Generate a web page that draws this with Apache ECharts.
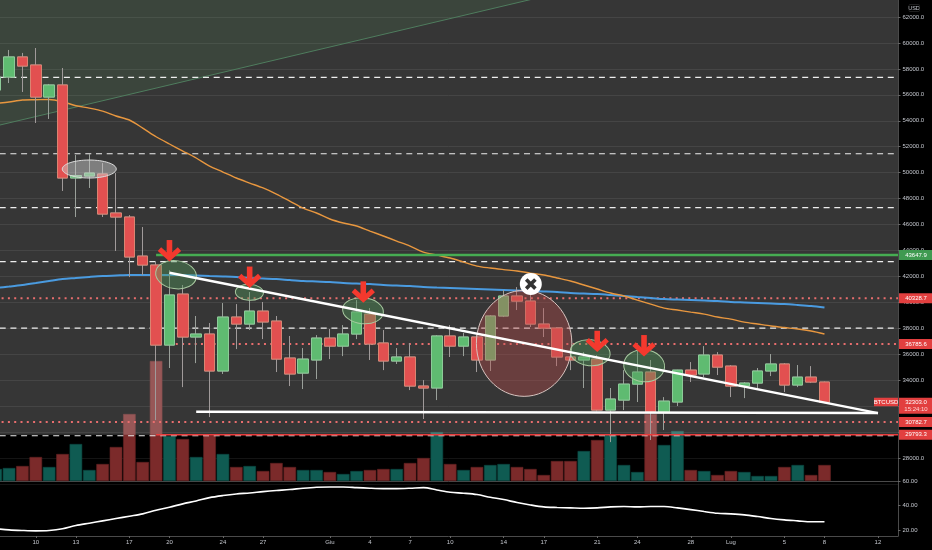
<!DOCTYPE html>
<html><head><meta charset="utf-8">
<style>html,body{margin:0;padding:0;background:#000}#c{width:932px;height:550px}</style>
<script src="https://cdn.jsdelivr.net/npm/echarts@6/dist/echarts.min.js"></script>
</head><body><div id="c"></div>
<script>
const tickLabels = ['','','','10','','','13','','','','17','','','20','','','','24','','','27','','','','','Giu','','','4','','','7','','','10','','','','14','','','17','','','','21','','','24','','','','28','','','Lug','','','','5','','','8','','','','12',''];
const opens = [56370,57370,58920,58300,55830,56760,49590,49740,49900,46890,46580,43570,42880,36710,40640,37330,37560,34710,38870,38330,39330,38560,35710,34550,35560,37250,36630,37560,39100,36870,35480,35790,33550,33400,37410,36630,37330,35560,38950,40490,40100,38330,38020,35790,35560,35630,31700,32470,33700,34630,31550,32320,34780,34480,35940,35090,33550,33780,34710,35250,33630,34240,33860];
const closes = [57370,58920,58220,55830,56760,49590,49770,49970,46810,46580,43500,42880,36710,40570,37330,37560,34710,38870,38330,39330,38490,35630,34480,35630,37250,36630,37560,39260,36790,35480,35790,33550,33400,37410,36630,37330,35560,38950,40490,40100,38330,38020,35790,35560,35790,31700,32550,33700,34630,31550,32390,34780,34400,35940,35010,33550,33780,34710,35250,33630,34240,33860,32303];
const lows = [55990,56910,56220,53830,54140,48590,46580,48820,46580,43960,41950,42110,30930,34940,33470,35320,31160,34480,36400,37870,37170,34630,33550,33320,34090,35630,35860,37170,35560,34780,35250,33240,31010,32470,35790,35860,34630,34710,38870,39410,38100,37330,35090,34780,33400,31600,29230,31700,32320,29390,30160,32010,33860,34240,34400,32700,32620,33400,34320,33090,33470,33780,32230];
const highs = [57760,59460,59230,59610,56840,58070,51360,51440,50740,49970,46730,45810,43110,42490,41340,38950,38410,39950,39870,40800,40030,38950,37410,36480,37480,37950,38250,40180,39560,37870,36480,36870,34010,37480,38250,37640,37480,39020,40950,41180,40570,39560,38100,36090,36170,35940,33400,34780,36330,35560,32700,34800,35400,36630,36170,35170,33860,34940,36020,35320,35170,35090,33900];
const volumes = [12,13,15,24,14,27,37,11,17,34,67,19,120,45,42,24,46,27,14,15,10,18,14,11,11,9,7,10,11,12,12,18,23,49,17,11,14,16,17,14,12,6,20,20,30,41,47,16,9,67,36,50,11,10,6,10,9,5,5,14,16,6,16];
const maOrange = [55330,55450,55600,55620,55640,55470,55160,54980,54750,54370,54060,53440,52770,52210,51670,51130,50510,50050,49590,49200,48820,48350,47810,47270,46890,46430,46120,45890,45500,45120,44730,44340,43880,43650,43420,43110,42800,42650,42530,42420,42260,42110,41880,41650,41340,41030,40720,40490,40180,39870,39560,39410,39250,39100,38870,38710,38480,38330,38180,38060,37950,37790,37560];
const maBlue = [41110,41220,41340,41490,41650,41800,41880,41960,42030,42070,42110,42110,42110,42110,42110,42070,42030,42000,41960,41880,41840,41800,41720,41650,41610,41570,41490,41450,41410,41340,41300,41260,41180,41140,41110,41070,41030,40990,40950,40910,40870,40840,40800,40720,40680,40640,40570,40490,40410,40340,40260,40220,40180,40140,40100,40030,39990,39950,39910,39870,39800,39720,39600];
const rsi = [21,20,19.5,19.2,19.5,20.9,23.6,25.5,27.4,29.3,31.2,33.1,36.1,38.6,41.3,43.7,46.4,48.1,49.4,50.2,51.3,52.2,53,54.1,54.9,55.1,55.1,54.6,54.1,53.8,53.8,54.1,54.6,52.7,50.8,50,48.9,46.7,44.8,42.4,40.4,38.8,38.3,38,37.7,38,38.8,39.1,38.8,39.1,39.1,38,36.6,35,33.6,33.1,32.3,30.9,29.3,28.2,27.4,26.6,26.6];
const darkZoneFloor = 29793.3;
const dashedLevels = [57350,51460,47310,43150,38020,29720];
const dottedLevels = [[0,40328.7],[13,36785.6],[0,30782.7]];
const solidLevels = [[12,29793.3,'#e93c3c',1.5],[12,43647.9,'#46ad52',2.4]];
const trendLines = [[13,42286,66,31469],[15,31570,66,31469]];
const greenZone = [[0,53596],[42,63828],[42,64000],[0,64000]];
const ellipses = [ // day, price, day radius, price radius, tilt, kind
  [7,50281,2.02,694,0,'grey'],[13.49,42132,1.53,1079,-0.14,'green'],[18.98,40775,1.05,617,-0.05,'green'],
  [27.48,39356,1.53,1002,-0.1,'green'],[39.53,36843,3.57,4086,0,'red'],[44.47,36118,1.5,1002,-0.1,'green'],[48.51,35116,1.53,1234,-0.1,'green']];
const arrows = [[13,43188],[19,41144],[27.5,40004],[45,36195],[48.5,35864]];
const closeMark = [[40.03,41415]];
const priceTags = [[43647.9,'43647.9','#3f9a50'],[40328.7,'40328.7','#e23f3f'],[36785.6,'36785.6','#e23f3f'],[30782.7,'30782.7','#e23f3f'],[29793.3,'29793.3','#e23f3f']];
const lastPrice = [32303,'32303.0','15:24:10','BTCUSD'];
const yAxisUnit = 'USD';

const candles = opens.map((o,i)=>[o,closes[i],lows[i],highs[i]]);
const candleBodies = opens.map((o,i)=>[o,closes[i],Math.min(o,closes[i]),Math.max(o,closes[i])]);
const volData = volumes.map((v,i)=>({value:v,itemStyle:{color:closes[i]>=opens[i]?'#0f5b52':'#7b2a2a',borderColor:closes[i]>=opens[i]?'#0b4a43':'#642222',borderWidth:.6}}));
const FONT = 'Liberation Sans, Arial, sans-serif';

function at(api,x,y){const i=Math.floor(x);const p=api.coord([i,y]);p[0]+=(x-i)*api.size([1,0])[0];return p;}
function custom(rows,z,draw){return {type:'custom',coordinateSystem:'cartesian2d',xAxisIndex:0,yAxisIndex:0,z:z,silent:true,clip:false,animation:false,
  data:rows.map(()=>[0,40000]),renderItem:(params,api)=>draw(rows[params.dataIndex],api,params)};}
function gridRight(p){return p.coordSys.x+p.coordSys.width;}

const series = [
 {type:'bar',name:'Volume',xAxisIndex:1,yAxisIndex:1,z:1,data:volData,barWidth:'94%',silent:true,animation:false},
 custom([[64000,darkZoneFloor]],2,(r,api,p)=>{const a=api.coord([0,r[0]]),b=api.coord([0,r[1]]);
   return {type:'rect',shape:{x:p.coordSys.x,y:a[1],width:p.coordSys.width,height:b[1]-a[1]},style:{fill:'rgba(255,255,255,0.21)'}};}),
 custom([greenZone],3,(r,api)=>({type:'group',children:[
   {type:'polygon',shape:{points:r.map(q=>api.coord(q))},style:{fill:'rgba(90,170,100,0.13)'}},
   {type:'line',shape:{x1:api.coord(r[0])[0],y1:api.coord(r[0])[1],x2:api.coord(r[1])[0],y2:api.coord(r[1])[1]},style:{stroke:'#4f7d5e',lineWidth:1,fill:null}}]})),
 custom(dashedLevels,3,(v,api,p)=>{const a=api.coord([0,v]);
   return {type:'line',shape:{x1:p.coordSys.x,y1:a[1],x2:gridRight(p),y2:a[1]},style:{stroke:'#eeeeee',lineWidth:1.2,lineDash:[6,4.7],fill:null}};}),
 custom(dottedLevels,3,(r,api,p)=>{const a=api.coord([r[0],r[1]]);
   return {type:'line',shape:{x1:r[0]?a[0]:p.coordSys.x,y1:a[1],x2:gridRight(p),y2:a[1]},style:{stroke:'#e86e6e',lineWidth:2,lineDash:[2,4.3],fill:null}};}),
 {type:'line',name:'MA slow',xAxisIndex:0,yAxisIndex:0,z:4,data:maBlue,showSymbol:false,smooth:0.3,lineStyle:{color:'#4a9be0',width:2},silent:true,animation:false},
 {type:'line',name:'MA fast',xAxisIndex:0,yAxisIndex:0,z:4,data:maOrange,showSymbol:false,smooth:0.3,lineStyle:{color:'#e8973f',width:1.4},silent:true,animation:false},
 {type:'candlestick',name:'BTCUSD',xAxisIndex:0,yAxisIndex:0,z:5,data:candles,barWidth:11,silent:true,animation:false,
  itemStyle:{color:'#5fbb71',color0:'#e25050',borderColor:'#9aa09a',borderColor0:'#a09a9a',borderWidth:1}},
 {type:'candlestick',name:'BTCUSD bodies',xAxisIndex:0,yAxisIndex:0,z:5,data:candleBodies,barWidth:11,silent:true,animation:false,
  itemStyle:{color:'#5fbb71',color0:'#e25050',borderColor:'#8ccb98',borderColor0:'#d98472',borderWidth:1}},
 custom(solidLevels,6,(r,api,p)=>{const a=api.coord([r[0],r[1]]);
   return {type:'line',shape:{x1:a[0],y1:a[1],x2:gridRight(p),y2:a[1]},style:{stroke:r[2],lineWidth:r[3],fill:null}};}),
 custom(ellipses,6,(e,api)=>{const c=at(api,e[0],e[1]);const s=api.size([1,e[3]]);
   const st={grey:['rgba(205,205,205,0.48)','#dddddd'],green:['rgba(80,150,90,0.42)','#a8c9a0'],red:['rgba(190,75,75,0.38)','#d8c4c0']}[e[5]];
   return {type:'ellipse',x:c[0],y:c[1],rotation:e[4],shape:{cx:0,cy:0,rx:e[2]*s[0],ry:s[1]},style:{fill:st[0],stroke:st[1],lineWidth:1}};}),
 custom(trendLines,7,(r,api)=>{const a=api.coord([r[0],r[1]]),b=api.coord([r[2],r[3]]);
   return {type:'line',shape:{x1:a[0],y1:a[1],x2:b[0],y2:b[1]},style:{stroke:'#ffffff',lineWidth:2.4,fill:null}};}),
 custom(arrows,8,(r,api)=>{const t=at(api,r[0],r[1]);const st={stroke:'#f4392e',lineWidth:5,fill:null};
   return {type:'group',x:t[0],y:t[1],children:[
     {type:'line',shape:{x1:0,y1:-21,x2:0,y2:-3},style:Object.assign({},st,{lineWidth:5.6})},
     {type:'polyline',shape:{points:[[-10,-12],[0,-3],[10,-12]]},style:st}]};}),
 custom(closeMark,9,(r,api)=>{const t=at(api,r[0],r[1]);const st={stroke:'#333333',lineWidth:3.6,fill:null};
   return {type:'group',x:t[0],y:t[1],children:[
     {type:'circle',shape:{cx:0,cy:0,r:11},style:{fill:'#ffffff'}},
     {type:'line',shape:{x1:-4.6,y1:-4.6,x2:4.6,y2:4.6},style:st},
     {type:'line',shape:{x1:-4.6,y1:4.6,x2:4.6,y2:-4.6},style:st}]};}),
 custom(priceTags,10,(r,api,p)=>{const y=api.coord([0,r[0]])[1],x=gridRight(p)+1;
   return {type:'group',children:[
     {type:'rect',shape:{x:x,y:y-5,width:34,height:10},style:{fill:r[2]}},
     {type:'text',x:x+17,y:y,style:{text:r[1],fill:'#ffffff',font:'6px '+FONT,align:'center',verticalAlign:'middle'}}]};}),
 custom([lastPrice],10,(r,api,p)=>{const y=api.coord([0,r[0]])[1],x=gridRight(p)+1;
   return {type:'group',children:[
     {type:'rect',shape:{x:x,y:y-4.5,width:34,height:16},style:{fill:'#e23f3f'}},
     {type:'rect',shape:{x:x-25,y:y-4.5,width:24,height:8.5},style:{fill:'#e23f3f'}},
     {type:'text',x:x+17,y:y,style:{text:r[1],fill:'#ffffff',font:'6px '+FONT,align:'center',verticalAlign:'middle'}},
     {type:'text',x:x+17,y:y+7,style:{text:r[2],fill:'#ffd5d5',font:'6px '+FONT,align:'center',verticalAlign:'middle'}},
     {type:'text',x:x-13,y:y,style:{text:r[3],fill:'#ffffff',font:'6px '+FONT,align:'center',verticalAlign:'middle'}}]};}),
 {type:'line',name:'RSI',xAxisIndex:2,yAxisIndex:2,z:4,data:rsi,showSymbol:false,smooth:0.3,lineStyle:{color:'#ffffff',width:1.6},silent:true,animation:false}
];
const axisLine={show:true,lineStyle:{color:'#4a4a4a',width:1}};
const hiddenX=g=>({type:'category',gridIndex:g,data:tickLabels,boundaryGap:true,axisTick:{show:false},axisLabel:{show:false},splitLine:{show:false},axisLine:{show:true,lineStyle:{color:'#4a4a4a'}}});
const shown=(i,v)=>v!=='';
const chart=echarts.init(document.getElementById('c'),null,{renderer:'canvas'});
chart.setOption({
 backgroundColor:'#000000',animation:false,
 grid:[
  {left:-11,width:909,top:-8.94,height:492.94,outerBoundsMode:'none'},
  {left:-11,width:909,top:321,height:160,outerBoundsMode:'none'},
  {left:-11,width:909,top:481,height:55,outerBoundsMode:'none'}],
 xAxis:[
  Object.assign(hiddenX(0),{axisLine:{show:false}}),
  hiddenX(1),
  {type:'category',gridIndex:2,data:tickLabels,boundaryGap:true,splitLine:{show:false},
   axisLine:{show:true,lineStyle:{color:'#4a4a4a'}},
   axisTick:{show:true,alignWithLabel:true,length:2,interval:shown,lineStyle:{color:'#666'}},
   axisLabel:{show:true,interval:shown,hideOverlap:false,margin:3.5,fontSize:6,fontFamily:FONT,color:'#c4c7ce'}}],
 yAxis:[
  {type:'value',gridIndex:0,position:'right',min:26000,max:64000,interval:2000,
   axisLine:axisLine,axisTick:{show:true,length:2.5,lineStyle:{color:'#666'}},
   splitLine:{show:true,lineStyle:{color:'#141414',width:1}},
   axisLabel:{show:true,margin:4.5,fontSize:6,fontFamily:FONT,color:'#c4c7ce',showMinLabel:false,showMaxLabel:false,formatter:v=>v.toFixed(1)}},
  {type:'value',gridIndex:1,position:'right',min:0,max:160,show:false,splitLine:{show:false}},
  {type:'value',gridIndex:2,position:'right',min:15,max:60,
   axisLine:axisLine,axisTick:{show:true,length:2.5,customValues:[20,40,60],lineStyle:{color:'#666'}},
   splitLine:{show:false},
   axisLabel:{show:true,margin:4.5,fontSize:6,fontFamily:FONT,color:'#c4c7ce',customValues:[20,40,60],formatter:v=>v.toFixed(2)}}],
 graphic:[
  {type:'text',x:914,y:8,z:20,style:{text:yAxisUnit,fill:'#c4c7ce',font:'5.5px '+FONT,align:'center',verticalAlign:'middle'}},
  {type:'rect',x:909,y:4.5,z:20,shape:{width:10.5,height:7,r:1},style:{fill:null,stroke:'#333',lineWidth:.6}}],
 series:series
});
</script></body></html>
